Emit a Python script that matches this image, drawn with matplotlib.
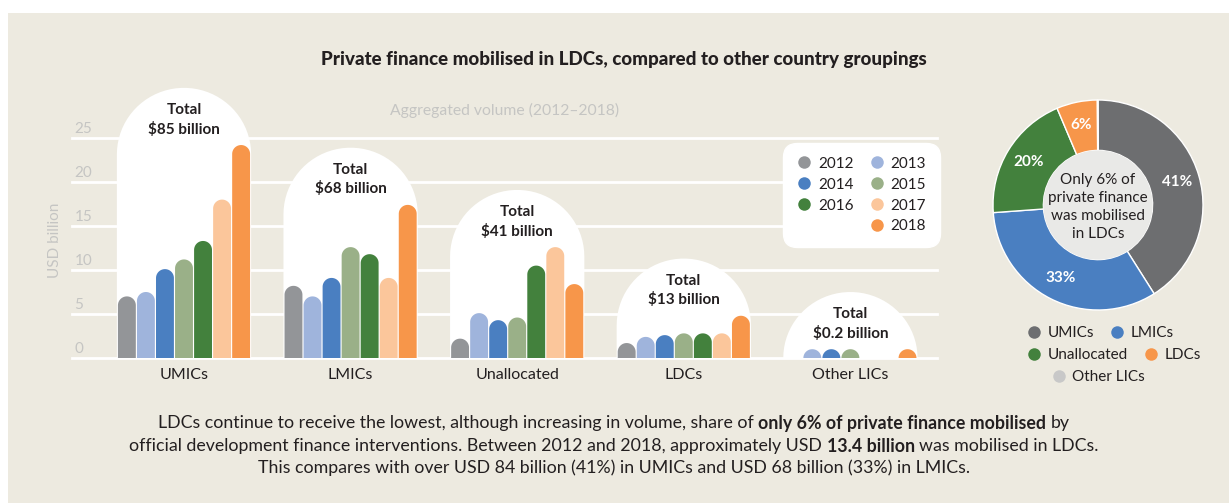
import numpy as np
import matplotlib
matplotlib.use('Agg')
import matplotlib.pyplot as plt
from matplotlib.patches import PathPatch, Rectangle, Circle
from matplotlib.path import Path
from matplotlib.lines import Line2D
from matplotlib import transforms

groups = ['UMICs', 'LMICs', 'Unallocated', 'LDCs', 'Other LICs']
years = ['2012', '2013', '2014', '2015', '2016', '2017', '2018']

# USD billion per year
umics = [7.0, 7.5, 10.1, 11.2, 13.3, 18.0, 24.2]
lmics = [8.2, 7.0, 9.1, 12.6, 11.8, 9.1, 17.4]
unallocated = [2.2, 5.1, 4.3, 4.6, 10.5, 12.6, 8.4]
ldcs = [1.7, 2.4, 2.6, 2.8, 2.8, 2.8, 4.8]
other_lics = [0.0, 1.0, 1.0, 1.0, 0.0, 0.0, 1.0]

totals = [85, 68, 41, 13, 0.2]
total_labels = ['$85 billion', '$68 billion', '$41 billion', '$13 billion', '$0.2 billion']
yticks = [0, 5, 10, 15, 20, 25]

year_colors = ['#939598', '#9fb4dc', '#4a7fc1', '#9ab088', '#43813d', '#fbc69b', '#f7964a']
group_colors = ['#6d6e70', '#4a7fc1', '#43813d', '#f7964a', '#c8c8c8']
BG = '#edeae0'
DARK = '#231f20'
LIGHT = '#c5c5c3'

plt.rcParams['font.family'] = ['Lato', 'DejaVu Sans']

W, H = 1229, 503
fig = plt.figure(figsize=(W / 100, H / 100), dpi=100, facecolor='white')
fig.patches.append(Rectangle((8 / W, 0), 1, 1 - 13 / H, transform=fig.transFigure,
                             facecolor=BG, edgecolor='none', zorder=-10))

# ---- bar chart
ax_l, ax_r, base_px, ytop = 72, 937, 358, 31.5
px_x, px_y = 166.6, 8.8
xlim = ((ax_l - 184) / px_x, (ax_r - 184) / px_x)
ax = fig.add_axes([ax_l / W, (H - base_px) / H, (ax_r - ax_l) / W, ytop * px_y / H])
ax.set_xlim(*xlim)
ax.set_ylim(0, ytop)
ax.patch.set_visible(False)
for s in ax.spines.values():
    s.set_visible(False)
ratio = px_x / px_y  # x-units -> y-units for round shapes


def capped(x0, x1, top, ry, n=40):
    rx = (x1 - x0) / 2
    cx = x0 + rx
    ry = min(ry, top)
    b = top - ry
    t = np.linspace(np.pi, 0, n)
    xs = np.concatenate([[x0], cx + rx * np.cos(t), [x1], [x0]])
    ys = np.concatenate([[0], b + ry * np.sin(t), [0], [0]])
    return Path(np.column_stack([xs, ys]))


for v in yticks:
    ax.axhline(v, color='white', lw=2, zorder=0, clip_on=False)
    ax.text(0.003, v, str(v), color=LIGHT, fontsize=11, ha='left', va='baseline',
            transform=transforms.offset_copy(ax.get_yaxis_transform(), fig, y=5, units='dots'))

series = [umics, lmics, unallocated, ldcs, other_lics]
span = 0.8
bw = span / len(years)
for i, vals in enumerate(series):
    arch_top = max(vals) + 6.5
    ax.add_patch(PathPatch(capped(i - span / 2 - 0.003, i + span / 2 + 0.003, arch_top, (span / 2) * ratio),
                           facecolor='white', edgecolor='none', zorder=1))
    ax.annotate('Total\n' + total_labels[i], (i, arch_top), xytext=(0, -15), textcoords='offset pixels',
                ha='center', va='top', fontsize=11, fontweight='bold', color=DARK, linespacing=1.4, zorder=3)
    for j, v in enumerate(vals):
        if v <= 0:
            continue
        x0 = i - span / 2 + j * bw + bw * 0.03
        x1 = x0 + bw * 0.94
        ax.add_patch(PathPatch(capped(x0, x1, v, (x1 - x0) / 2 * ratio),
                               facecolor=year_colors[j], edgecolor='none', zorder=2))

ax.set_yticks([])
ax.set_xticks(range(len(groups)), groups)
ax.tick_params(axis='x', length=0, pad=7, labelsize=11.5, labelcolor=DARK)

fig.text(55 / W, 1 - 240 / H, 'USD billion', rotation=90, ha='center', va='center', color=LIGHT, fontsize=11)
fig.text(624 / W, 1 - 59 / H, 'Private finance mobilised in LDCs, compared to other country groupings',
         ha='center', va='center', fontsize=13.5, fontweight='black', color=DARK)
fig.text(505 / W, 1 - 110 / H, 'Aggregated volume (2012\u20132018)', ha='center', va='center',
         fontsize=11.3, color=LIGHT)

# year legend, row-major order with an empty slot
def dot(c, label):
    return Line2D([], [], linestyle='none', marker='o', markersize=9, markerfacecolor=c,
                  markeredgecolor='none', label=label)

yh = [dot(c, y) for c, y in zip(year_colors, years)]
blank = Line2D([], [], linestyle='none', label=' ')
order = [yh[0], yh[2], yh[4], blank, yh[1], yh[3], yh[5], yh[6]]
leg = fig.legend(handles=order, labels=[h.get_label() for h in order], ncol=2, loc='upper left',
                 bbox_to_anchor=(783 / W, 1 - 143 / H), frameon=True, fontsize=11,
                 handlelength=1.0, handletextpad=0.4, columnspacing=1.0, labelspacing=0.45,
                 borderpad=0.9, borderaxespad=0, labelcolor=DARK)
leg.get_frame().set_facecolor('white')
leg.get_frame().set_edgecolor('white')
leg.get_frame().set_alpha(1)
leg.get_frame().set_boxstyle('round', pad=0.0, rounding_size=0.9)

# ---- donut
cx, cy, r = 1098, 205, 105
pax = fig.add_axes([(cx - r) / W, (H - cy - r) / H, 2 * r / W, 2 * r / H])
pax.pie(totals, colors=group_colors, startangle=90, counterclock=False, radius=1,
        autopct=lambda p: '%.0f%%' % p if p >= 1 else '', pctdistance=0.78,
        wedgeprops=dict(width=0.48, edgecolor='white', linewidth=1),
        textprops=dict(color='white', fontsize=11, fontweight='bold'))
pax.add_patch(Circle((0, 0), 0.52, facecolor='#e9e9e7', edgecolor='none'))
pax.text(0, -0.02, 'Only 6% of\nprivate finance\nwas mobilised\nin LDCs', ha='center', va='center',
         fontsize=11, color=DARK, linespacing=1.35)
pax.set_xlim(-1, 1)
pax.set_ylim(-1, 1)
pax.set_aspect('equal')
pax.axis('off')

gh = [dot(c, g) for c, g in zip(group_colors, groups)]
kw = dict(frameon=False, fontsize=11, handlelength=1.0, handletextpad=0.4, columnspacing=1.0,
          borderpad=0, borderaxespad=0, labelcolor=DARK)
fig.legend(handles=gh[:2], ncol=2, loc='upper left', bbox_to_anchor=(1026 / W, 1 - 326 / H), **kw)
fig.legend(handles=gh[2:4], ncol=2, loc='upper left', bbox_to_anchor=(1026 / W, 1 - 348 / H), **kw)
fig.legend(handles=gh[4:], ncol=1, loc='upper center', bbox_to_anchor=(1098 / W, 1 - 370 / H), **kw)

# ---- caption with bold runs
lines = [
    [('LDCs continue to receive the lowest, although increasing in volume, share of', False),
     ('only 6% of private finance mobilised', True), ('by', False)],
    [('official development finance interventions. Between 2012 and 2018, approximately USD', False),
     ('13.4 billion', True), ('was mobilised in LDCs.', False)],
    [('This compares with over USD 84 billion (41%) in UMICs and USD 68 billion (33%) in LMICs.', False)],
]
line_y = [423, 446, 468]
renderer = fig.canvas.get_renderer()
fs = 12.8
sp_a = fig.text(0, 0, 'a a', fontsize=fs)
sp_b = fig.text(0, 0, 'aa', fontsize=fs)
space = sp_a.get_window_extent(renderer).width - sp_b.get_window_extent(renderer).width
sp_a.remove()
sp_b.remove()
for segs, ypx in zip(lines, line_y):
    texts = [fig.text(0, 1 - ypx / H, s, fontsize=fs, fontweight='bold' if b else 'normal',
                      color=DARK, va='center', ha='left') for s, b in segs]
    widths = [t.get_window_extent(renderer).width for t in texts]
    total = sum(widths) + space * (len(texts) - 1)
    x = 614 - total / 2
    for t, w in zip(texts, widths):
        t.set_x(x / W)
        x += w + space

fig.savefig('out.png', dpi=100, facecolor='white')
